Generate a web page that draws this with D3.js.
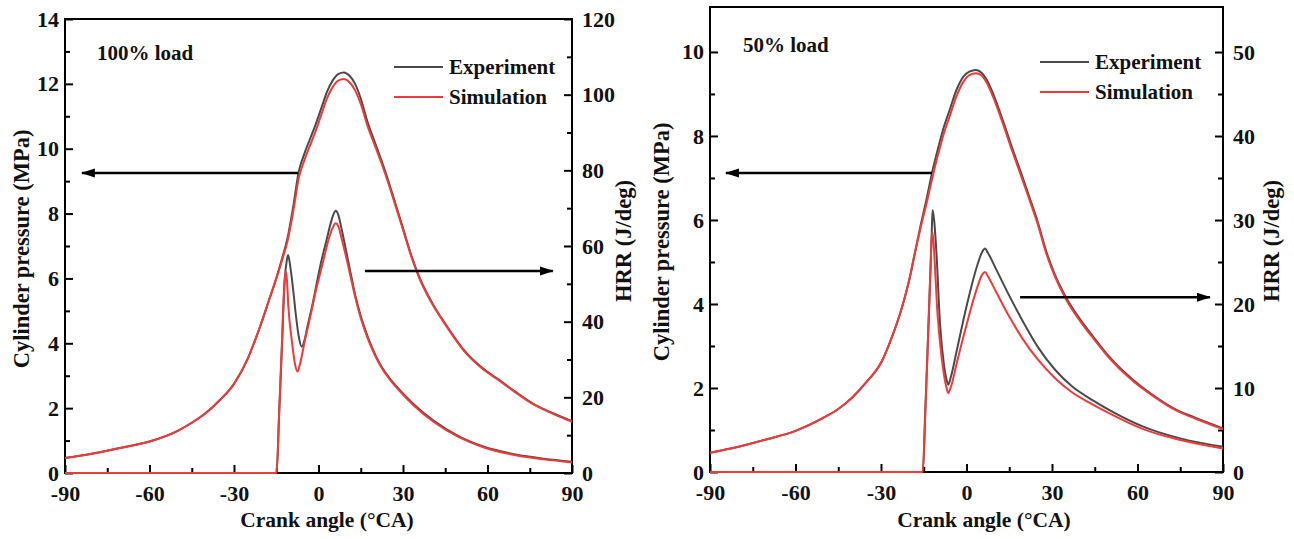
<!DOCTYPE html>
<html>
<head>
<meta charset="utf-8">
<script src="https://d3js.org/d3.v7.min.js"></script>
<style>
  body { margin: 0; background: #fff; }
  svg text { font-family: "Liberation Serif", "Times New Roman", serif; font-weight: bold; fill: #111; }
</style>
</head>
<body>
<svg id="chart" width="1294" height="539"></svg>
<script>
// ---- 100% load ----
const pAng100 = [-90,-80,-70,-60,-50,-45,-40,-35,-30,-25,-22.5,-20,-17.5,-15,-13,-11,-9,-7,-5,-3,-1,1,3,5,7,9,11,13,15,17.5,20,22.5,25,27.5,30,33,36,40,45,52.5,58,64,70,76,83,90];
const pExp100 = [0.46,0.6,0.78,0.97,1.3,1.55,1.85,2.25,2.75,3.55,4.1,4.7,5.35,6.0,6.6,7.25,8.2,9.3,9.85,10.3,10.75,11.25,11.75,12.1,12.3,12.35,12.25,12.0,11.55,10.8,10.2,9.6,8.95,8.25,7.55,6.7,6.0,5.3,4.6,3.7,3.25,2.88,2.5,2.15,1.85,1.6];
const pSim100 = [0.46,0.6,0.78,0.97,1.3,1.55,1.85,2.25,2.75,3.55,4.1,4.7,5.35,6.0,6.55,7.15,8.05,9.1,9.65,10.1,10.55,11.05,11.55,11.9,12.1,12.15,12.05,11.8,11.38,10.68,10.1,9.52,8.88,8.2,7.5,6.66,5.96,5.27,4.58,3.68,3.23,2.86,2.48,2.13,1.84,1.58];

const hAngExp100 = [-90,-14.9,-14,-13,-12,-11.3,-10.8,-10,-9,-8,-7,-6,-5,-4,-2,0,1.1,3,4.5,5.5,6.1,7,8.2,10,11.5,13.2,15,17.5,20,22.4,25,28.9,34.2,40.7,50,58.5,70,80,90];
const hExp100 = [0,0,15,33,51,56,57.6,54.5,48.5,41.5,36,33.4,35,38.5,45,52.5,56.3,62,66.5,68.7,69.3,68.3,64.5,58,52.5,46.5,41.5,36,31.5,28.1,25.3,21.9,17.9,13.9,9.6,7.0,4.9,3.8,3.0];
const hAngSim100 = [-90,-14.85,-14,-13,-12.2,-11.65,-11.2,-10.7,-9.5,-8.4,-7.5,-6.5,-4.8,-3,-1,0.6,2,3.5,5,6.1,7,8.2,10,11.5,13.2,15,17.5,20,22.4,25,28.9,34.2,40.7,50,58.5,70,80,90];
const hSim100 = [0,0,15.5,34,49,53.2,51,44,35.2,29,26.8,29,35.2,41,48,52.8,57,61.5,64.8,66,65.3,62,56.5,51.5,46,41,35.5,31.2,27.8,25.0,21.6,17.6,13.6,9.4,6.8,4.7,3.6,2.8];

// ---- 50% load ----
const pAng50 = [-90,-80,-70,-60,-50,-45,-40,-35,-30,-26.8,-22.5,-20,-18,-16,-14,-12,-10,-8,-6,-3.5,-1,1,3.3,5,7,9.5,12.9,16,19,22.3,25,28,31,35,40,44.5,50,58.5,65,73.7,80,90];
const pExp50 = [0.46,0.6,0.78,0.98,1.3,1.5,1.78,2.15,2.6,3.1,3.95,4.6,5.25,5.9,6.5,7.15,7.7,8.2,8.6,9.1,9.42,9.53,9.57,9.52,9.35,8.98,8.34,7.72,7.15,6.5,5.95,5.25,4.7,4.15,3.62,3.22,2.75,2.19,1.85,1.48,1.3,1.04];
const pSim50 = [0.46,0.6,0.78,0.98,1.3,1.5,1.78,2.15,2.6,3.1,3.95,4.6,5.25,5.85,6.4,7.0,7.55,8.05,8.45,8.95,9.3,9.45,9.49,9.45,9.28,8.9,8.27,7.65,7.08,6.44,5.9,5.2,4.66,4.1,3.58,3.18,2.72,2.16,1.83,1.46,1.28,1.02];

const hAngExp50 = [-90,-15.3,-14.5,-13.5,-12.6,-12.2,-11.9,-11.3,-10.5,-9.3,-8,-7,-6.4,-5.5,-3.4,0,3.6,5.5,6.5,7.5,10.6,15,20,25,31,37,44.5,50,62,75,90];
const hExp50 = [0,0,7,16,24.5,28.5,31.2,29.8,25.8,17.7,13,11,10.4,11.3,14.5,19.7,24.4,26.2,26.6,26.1,24.0,21.0,17.8,14.9,12.2,10.2,8.5,7.4,5.4,4.0,3.0];
const hAngSim50 = [-90,-15.4,-14.5,-13.5,-12.6,-12.1,-11.6,-11,-10.3,-9.3,-8,-7,-6.4,-5.5,-3.4,0,3.6,5.5,6.5,7.5,10.6,15,20,25,31,37,44.5,50,62,75,90];
const hSim50 = [0,0,6.5,16,24.5,28.6,27.5,24,19.5,15.5,11.8,10,9.4,10.1,13,17.5,21.8,23.5,23.8,23.3,21.3,18.5,15.7,13.4,11.2,9.5,8.0,7.0,5.1,3.8,2.8];

const seriesNames = ['Experiment', 'Simulation'];
const xTicks = [-90, -60, -30, 0, 30, 60, 90];
const xMinor = [-75, -45, -15, 15, 45, 75];

const expColor = '#4a4a4a';
const simColor = '#f03a3a';

const svg = d3.select('#chart');

svg.append('defs').append('marker')
    .attr('id', 'arrow')
    .attr('markerUnits', 'userSpaceOnUse')
    .attr('viewBox', '0 0 14 10')
    .attr('refX', 13)
    .attr('refY', 5)
    .attr('markerWidth', 14)
    .attr('markerHeight', 10)
    .attr('orient', 'auto')
  .append('path')
    .attr('d', 'M0,0.5 L14,5 L0,9.5 Z')
    .attr('fill', '#000');

function zip(a, b) { return a.map((v, i) => [v, b[i]]); }

// plain hyphen for negatives, like the original figure
const fmt = d => String(d);

function drawPanel(cfg) {
    const x = d3.scaleLinear().domain([-90, 90]).range([cfg.left, cfg.right]);
    const yP = d3.scaleLinear().domain([0, cfg.presMax]).range([cfg.bottom, cfg.top]);
    const yH = d3.scaleLinear().domain([0, cfg.hrrMax]).range([cfg.bottom, cfg.top]);
    const g = svg.append('g');

    // frame
    g.append('rect')
        .attr('x', cfg.left).attr('y', cfg.top)
        .attr('width', cfg.right - cfg.left).attr('height', cfg.bottom - cfg.top)
        .attr('fill', 'none').attr('stroke', '#000').attr('stroke-width', 2);

    function styleAxis(sel) {
        sel.select('.domain').remove();
        sel.selectAll('.tick line').attr('stroke', '#000').attr('stroke-width', 2);
        sel.selectAll('text').attr('font-size', 22).attr('fill', '#111');
        sel.attr('font-family', null).attr('font-size', null);
    }

    // x axis
    g.append('g').attr('transform', `translate(0,${cfg.bottom})`)
        .call(d3.axisBottom(x).tickValues(xTicks).tickSize(-8).tickPadding(12).tickFormat(fmt))
        .call(styleAxis);
    g.append('g').attr('transform', `translate(0,${cfg.bottom})`)
        .call(d3.axisBottom(x).tickValues(xMinor).tickSize(-5).tickFormat(''))
        .call(styleAxis);

    // left (pressure)
    g.append('g').attr('transform', `translate(${cfg.left},0)`)
        .call(d3.axisLeft(yP).tickValues(cfg.pTicks).tickSize(-8).tickPadding(6).tickFormat(fmt))
        .call(styleAxis);
    g.append('g').attr('transform', `translate(${cfg.left},0)`)
        .call(d3.axisLeft(yP).tickValues(cfg.pMinor).tickSize(-5).tickFormat(''))
        .call(styleAxis);

    // right (HRR)
    g.append('g').attr('transform', `translate(${cfg.right},0)`)
        .call(d3.axisRight(yH).tickValues(cfg.hTicks).tickSize(-8).tickPadding(10).tickFormat(fmt))
        .call(styleAxis);
    g.append('g').attr('transform', `translate(${cfg.right},0)`)
        .call(d3.axisRight(yH).tickValues(cfg.hMinor).tickSize(-5).tickFormat(''))
        .call(styleAxis);

    // curves
    const lineP = d3.line().x(d => x(d[0])).y(d => yP(d[1])).curve(d3.curveMonotoneX);
    const lineH = d3.line().x(d => x(d[0])).y(d => yH(d[1])).curve(d3.curveMonotoneX);
    const curves = [
        { pts: zip(cfg.pAng, cfg.pExp), line: lineP, color: expColor },
        { pts: zip(cfg.hAngExp, cfg.hExp), line: lineH, color: expColor },
        { pts: zip(cfg.pAng, cfg.pSim), line: lineP, color: simColor },
        { pts: zip(cfg.hAngSim, cfg.hSim), line: lineH, color: simColor }
    ];
    g.selectAll('path.curve')
        .data(curves)
        .enter()
        .append('path')
        .attr('class', 'curve')
        .attr('d', d => d.line(d.pts))
        .attr('fill', 'none')
        .attr('stroke', d => d.color)
        .attr('stroke-width', 2)
        .attr('stroke-linejoin', 'round');

    // arrows pointing to the axes
    cfg.arrows.forEach(a => {
        const ys = a.axis === 'p' ? yP : yH;
        g.append('line')
            .attr('x1', x(a.from)).attr('x2', x(a.to))
            .attr('y1', ys(a.y)).attr('y2', ys(a.y))
            .attr('stroke', '#000').attr('stroke-width', 2.5)
            .attr('marker-end', 'url(#arrow)');
    });

    // legend
    const leg = g.append('g');
    seriesNames.forEach((name, i) => {
        const yy = cfg.legY + i * 30;
        leg.append('line')
            .attr('x1', cfg.legX).attr('x2', cfg.legX + 49)
            .attr('y1', yy).attr('y2', yy)
            .attr('stroke', i === 0 ? expColor : simColor).attr('stroke-width', 2);
        leg.append('text')
            .attr('x', cfg.legX + 55).attr('y', yy + 7)
            .attr('font-size', 21)
            .text(name);
    });

    // load label
    g.append('text').attr('x', cfg.labelX).attr('y', cfg.labelY)
        .attr('font-size', 21).text(cfg.label);

    // axis titles
    g.append('text')
        .attr('x', cfg.xTitleX).attr('y', 527)
        .attr('text-anchor', 'middle').attr('font-size', 21.5)
        .text('Crank angle (°CA)');
    g.append('text')
        .attr('transform', `translate(${cfg.pTitleX},${cfg.pTitleY}) rotate(-90)`)
        .attr('text-anchor', 'middle').attr('font-size', 22.5)
        .text('Cylinder pressure (MPa)');
    g.append('text')
        .attr('transform', `translate(${cfg.hTitleX},${cfg.hTitleY}) rotate(-90)`)
        .attr('text-anchor', 'middle').attr('font-size', 22.5)
        .text('HRR (J/deg)');
}

drawPanel({
    left: 65, right: 572, top: 19, bottom: 473,
    presMax: 14, hrrMax: 120,
    pTicks: d3.range(0, 15, 2), pMinor: d3.range(1, 14, 2),
    hTicks: d3.range(0, 121, 20), hMinor: d3.range(10, 120, 20),
    pAng: pAng100, pExp: pExp100, pSim: pSim100,
    hAngExp: hAngExp100, hExp: hExp100, hAngSim: hAngSim100, hSim: hSim100,
    arrows: [{ axis: 'p', y: 9.25, from: -7.3, to: -84 }, { axis: 'h', y: 53.4, from: 16.5, to: 83.2 }],
    legX: 394, legY: 67, label: '100% load', labelX: 97, labelY: 60,
    xTitleX: 327, pTitleX: 29, pTitleY: 249, hTitleX: 631, hTitleY: 241
});

drawPanel({
    left: 710, right: 1223, top: 7, bottom: 472,
    presMax: 11.07, hrrMax: 55.36,
    pTicks: d3.range(0, 11, 2), pMinor: d3.range(1, 10, 2),
    hTicks: d3.range(0, 51, 10), hMinor: d3.range(5, 50, 10),
    pAng: pAng50, pExp: pExp50, pSim: pSim50,
    hAngExp: hAngExp50, hExp: hExp50, hAngSim: hAngSim50, hSim: hSim50,
    arrows: [{ axis: 'p', y: 7.12, from: -12.1, to: -84.4 }, { axis: 'h', y: 20.8, from: 18.8, to: 85.4 }],
    legX: 1040, legY: 62, label: '50% load', labelX: 743, labelY: 52,
    xTitleX: 984, pTitleX: 669, pTitleY: 242, hTitleX: 1279, hTitleY: 241
});
</script>
</body>
</html>
